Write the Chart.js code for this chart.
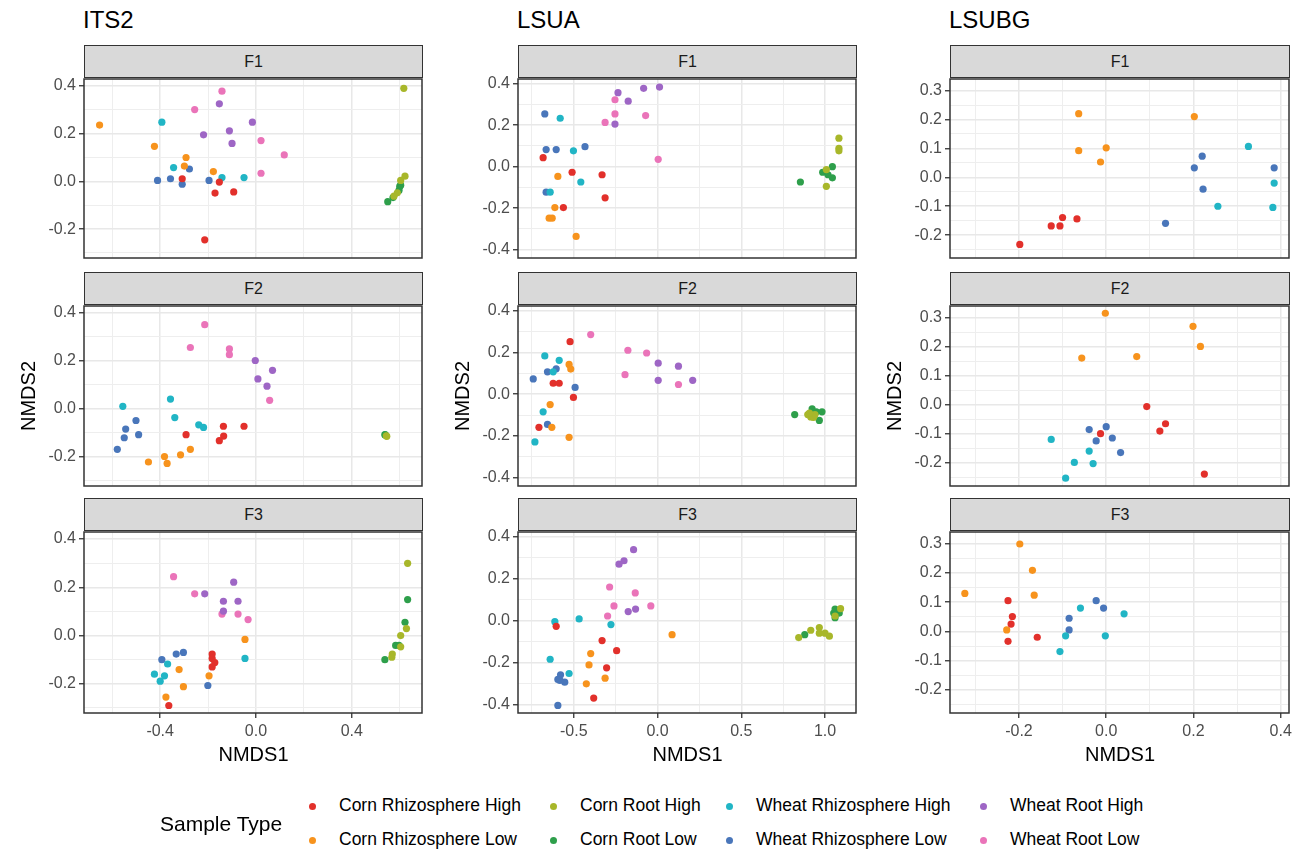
<!DOCTYPE html>
<html lang="en">
<head>
<meta charset="UTF-8">
<title>NMDS by marker and field</title>
<script src="https://cdn.jsdelivr.net/npm/chart.js"></script>
<style>
    body {
        margin: 0;
        background: #ffffff;
        font-family: "Liberation Sans", Arial, sans-serif;
    }

    #page {
        position: relative;
        width: 1293px;
        height: 852px;
        overflow: hidden;
    }

    #page canvas {
        position: absolute;
    }

    .txt {
        position: absolute;
        white-space: nowrap;
        line-height: 1;
        color: #000000;
    }

    .strip {
        position: absolute;
        box-sizing: border-box;
        border: 1.5px solid #333333;
        background: #d9d9d9;
        color: #1a1a1a;
        font-size: 16px;
        display: flex;
        align-items: center;
        justify-content: center;
    }

    .dot {
        position: absolute;
        width: 7px;
        height: 7px;
        border-radius: 50%;
    }
</style>
</head>
<body>
<div id="page"></div>

<script>
    // sample groups, in legend order (column by column)
    const sampleTypes = ['Corn Rhizosphere High', 'Corn Rhizosphere Low', 'Corn Root High', 'Corn Root Low',
        'Wheat Rhizosphere High', 'Wheat Rhizosphere Low', 'Wheat Root High', 'Wheat Root Low'];
    const typeColors = ['#e2302b', '#f7931d', '#a8b72a', '#2e9f4b', '#21b5c5', '#4976ba', '#9e66c5', '#ea74b9'];

    const markers = ['ITS2', 'LSUA', 'LSUBG'];
    const facets = ['F1', 'F2', 'F3'];

    // labelled ticks and axis limits for each marker
    const its2XTicks = [-0.4, 0, 0.4];
    const its2YTicks = [-0.2, 0, 0.2, 0.4];
    const lsuaXTicks = [-0.5, 0, 0.5, 1.0];
    const lsuaYTicks = [-0.4, -0.2, 0, 0.2, 0.4];
    const lsubgXTicks = [-0.2, 0, 0.2, 0.4];
    const lsubgYTicks = [-0.2, -0.1, 0, 0.1, 0.2, 0.3];
    const its2XRange = [-0.718, 0.693];
    const its2YRange = [-0.321, 0.429];
    const lsuaXRange = [-0.833, 1.185];
    const lsuaYRange = [-0.44, 0.422];
    const lsubgXRange = [-0.358, 0.419];
    const lsubgYRange = [-0.279, 0.34];

    // NMDS1 / NMDS2 scores, one list per sample type (same order as sampleTypes)
    const its2F1 = [
        [[-0.308, 0.011], [-0.153, -0.003], [-0.171, -0.049], [-0.093, -0.044], [-0.214, -0.245]],
        [[-0.653, 0.236], [-0.424, 0.147], [-0.292, 0.100], [-0.299, 0.064], [-0.178, 0.041]],
        [[0.617, 0.390], [0.622, 0.022], [0.604, 0.004], [0.590, -0.048], [0.576, -0.062]],
        [[0.550, -0.085], [0.572, -0.068], [0.597, -0.038], [0.600, -0.021], [0.604, -0.016]],
        [[-0.393, 0.248], [-0.344, 0.058], [-0.142, 0.016], [-0.050, 0.016]],
        [[-0.411, 0.004], [-0.357, 0.011], [-0.308, -0.012], [-0.278, 0.052], [-0.196, 0.004]],
        [[-0.153, 0.325], [-0.015, 0.248], [-0.111, 0.212], [-0.219, 0.195], [-0.100, 0.159]],
        [[-0.142, 0.378], [-0.256, 0.301], [0.021, 0.171], [0.118, 0.111], [0.021, 0.034]]
    ];
    const its2F2 = [
        [[-0.292, -0.107], [-0.136, -0.072], [-0.050, -0.072], [-0.135, -0.113], [-0.153, -0.132]],
        [[-0.449, -0.221], [-0.382, -0.198], [-0.371, -0.227], [-0.315, -0.191], [-0.274, -0.168]],
        [[0.544, -0.112], [0.546, -0.114]],
        [[0.538, -0.107], [0.540, -0.108]],
        [[-0.556, 0.011], [-0.357, 0.041], [-0.339, -0.036], [-0.239, -0.066], [-0.219, -0.077]],
        [[-0.501, -0.048], [-0.544, -0.084], [-0.490, -0.107], [-0.550, -0.120], [-0.579, -0.168]],
        [[-0.003, 0.202], [0.069, 0.161], [0.008, 0.125], [0.046, 0.095]],
        [[-0.214, 0.351], [-0.274, 0.256], [-0.111, 0.250], [-0.111, 0.226], [0.057, 0.036]]
    ];
    const its2F3 = [
        [[-0.183, -0.077], [-0.183, -0.095], [-0.172, -0.112], [-0.183, -0.130], [-0.364, -0.290]],
        [[-0.046, -0.016], [-0.321, -0.141], [-0.196, -0.167], [-0.303, -0.212], [-0.376, -0.255]],
        [[0.633, 0.299], [0.628, 0.029], [0.604, 0.000], [0.604, -0.047], [0.569, -0.077], [0.567, -0.090]],
        [[0.633, 0.149], [0.622, 0.055], [0.583, -0.041], [0.597, -0.041], [0.538, -0.100]],
        [[-0.046, -0.095], [-0.369, -0.118], [-0.424, -0.160], [-0.382, -0.167], [-0.400, -0.189]],
        [[-0.393, -0.100], [-0.333, -0.077], [-0.303, -0.070], [-0.201, -0.207]],
        [[-0.093, 0.221], [-0.214, 0.173], [-0.136, 0.142], [-0.075, 0.142], [-0.136, 0.101]],
        [[-0.344, 0.244], [-0.256, 0.173], [-0.142, 0.089], [-0.075, 0.089], [-0.033, 0.066]]
    ];
    const lsuaF1 = [
        [[-0.683, 0.043], [-0.510, -0.027], [-0.331, -0.039], [-0.562, -0.197], [-0.313, -0.150]],
        [[-0.595, -0.047], [-0.613, -0.197], [-0.647, -0.248], [-0.629, -0.248], [-0.486, -0.336]],
        [[1.083, 0.137], [1.083, 0.088], [1.083, 0.076], [1.008, -0.095], [1.008, -0.014]],
        [[0.853, -0.074], [0.986, -0.027], [1.044, 0.000], [1.018, -0.039], [1.044, -0.054]],
        [[-0.581, 0.233], [-0.502, 0.076], [-0.458, -0.074], [-0.641, -0.123]],
        [[-0.673, 0.254], [-0.665, 0.082], [-0.605, 0.082], [-0.433, 0.096], [-0.665, -0.123]],
        [[-0.236, 0.356], [-0.175, 0.315], [-0.083, 0.377], [0.012, 0.383], [-0.254, 0.205]],
        [[-0.313, 0.213], [-0.254, 0.254], [-0.254, 0.322], [-0.071, 0.246], [0.004, 0.035]]
    ];
    const lsuaF2 = [
        [[-0.522, 0.251], [-0.623, 0.052], [-0.587, 0.052], [-0.502, -0.016], [-0.708, -0.159]],
        [[-0.528, 0.142], [-0.518, 0.120], [-0.641, -0.050], [-0.631, -0.159], [-0.528, -0.207]],
        [[0.897, -0.098], [0.915, -0.109], [0.931, -0.112], [0.940, -0.098], [0.907, -0.091]],
        [[0.819, -0.098], [0.923, -0.071], [0.948, -0.085], [0.982, -0.085], [0.966, -0.126]],
        [[-0.673, 0.183], [-0.587, 0.162], [-0.623, 0.107], [-0.683, -0.085], [-0.732, -0.229]],
        [[-0.742, 0.073], [-0.657, 0.107], [-0.605, 0.121], [-0.492, 0.032], [-0.657, -0.145]],
        [[0.004, 0.148], [0.125, 0.134], [0.004, 0.066], [0.210, 0.066]],
        [[-0.399, 0.285], [-0.177, 0.210], [-0.065, 0.197], [-0.194, 0.093], [0.125, 0.046]]
    ];
    const lsuaF3 = [
        [[-0.605, -0.027], [-0.331, -0.095], [-0.244, -0.143], [-0.304, -0.225], [-0.381, -0.369]],
        [[0.087, -0.067], [-0.399, -0.157], [-0.409, -0.211], [-0.313, -0.274], [-0.425, -0.301]],
        [[0.843, -0.081], [0.915, -0.046], [0.966, -0.033], [0.966, -0.060], [1.000, -0.060], [1.026, -0.074], [1.060, 0.022], [1.093, 0.057]],
        [[0.879, -0.067], [1.052, 0.036], [1.060, 0.014], [1.085, 0.036], [1.060, 0.055]],
        [[-0.613, -0.005], [-0.468, 0.008], [-0.278, -0.019], [-0.641, -0.184], [-0.528, -0.252]],
        [[-0.579, -0.258], [-0.595, -0.280], [-0.554, -0.293], [-0.595, -0.404], [-0.583, -0.285]],
        [[-0.143, 0.338], [-0.200, 0.285], [-0.230, 0.269], [-0.131, 0.055], [-0.175, 0.043]],
        [[-0.286, 0.160], [-0.133, 0.132], [-0.260, 0.070], [-0.040, 0.070], [-0.298, 0.022]]
    ];
    const lsubgF1 = [
        [[-0.198, -0.232], [-0.126, -0.168], [-0.106, -0.168], [-0.100, -0.139], [-0.067, -0.144]],
        [[-0.063, 0.220], [-0.063, 0.092], [0.000, 0.102], [-0.013, 0.053], [0.202, 0.210]],
        [],
        [],
        [[0.326, 0.107], [0.256, -0.100], [0.385, -0.020], [0.382, -0.104]],
        [[0.136, -0.159], [0.202, 0.033], [0.220, 0.073], [0.222, -0.041], [0.385, 0.033]],
        [],
        []
    ];
    const lsubgF2 = [
        [[0.093, -0.006], [0.136, -0.065], [0.123, -0.090], [-0.013, -0.099], [0.225, -0.238]],
        [[-0.002, 0.315], [-0.056, 0.161], [0.070, 0.166], [0.199, 0.270], [0.216, 0.201]],
        [],
        [],
        [[-0.126, -0.119], [-0.039, -0.159], [-0.073, -0.198], [-0.030, -0.202], [-0.093, -0.252]],
        [[-0.039, -0.085], [0.000, -0.075], [0.014, -0.114], [-0.023, -0.124], [0.033, -0.164]],
        [],
        []
    ];
    const lsubgF3 = [
        [[-0.225, 0.105], [-0.215, 0.051], [-0.218, 0.025], [-0.225, -0.034], [-0.158, -0.020]],
        [[-0.198, 0.299], [-0.324, 0.130], [-0.169, 0.209], [-0.165, 0.124], [-0.228, 0.005]],
        [],
        [],
        [[-0.059, 0.080], [0.041, 0.060], [-0.093, -0.015], [-0.002, -0.015], [-0.106, -0.069]],
        [[-0.023, 0.105], [-0.006, 0.080], [-0.085, 0.045], [-0.085, 0.005]],
        [],
        []
    ];

    const page = document.getElementById('page');

    // panel grid: plot-area edges in page pixels
    const colLeft = [84, 518, 950];
    const colRight = [423, 857, 1290];
    const stripTop = [45, 272, 498];
    const plotTop = [77, 304, 530];
    const plotBottom = [259, 487, 713];

    const Y_AXIS_W = 60;
    const X_AXIS_H = 36;

    function addText(text, x, y, size, align, rotate) {
        const el = document.createElement('div');
        el.className = 'txt';
        el.textContent = text;
        el.style.fontSize = size + 'px';
        el.style.left = x + 'px';
        if (rotate) {
            el.style.top = y + 'px';
            el.style.transform = 'translate(-50%, -50%) rotate(-90deg)';
        } else {
            // y is the middle of the capitals
            el.style.top = (y - 0.49 * size) + 'px';
            if (align === 'center') el.style.transform = 'translateX(-50%)';
        }
        page.appendChild(el);
        return el;
    }

    // frame round the plot area, drawn over the points like panel.border
    const panelBorder = {
        id: 'panelBorder',
        afterDraw(chart) {
            const a = chart.chartArea;
            const ctx = chart.ctx;
            ctx.save();
            ctx.strokeStyle = '#333333';
            ctx.lineWidth = 1.5;
            ctx.strokeRect(a.left, a.top, a.right - a.left, a.bottom - a.top);
            ctx.restore();
        }
    };

    function axisOptions(majors, range, showLabels, dir) {
        const step = majors[1] - majors[0];
        const minors = [majors[0] - step / 2].concat(majors.map(v => v + step / 2));
        const all = majors.concat(minors)
            .filter(v => v > range[0] && v < range[1])
            .sort((a, b) => a - b);
        const isMajor = v => majors.some(m => Math.abs(m - v) < 1e-9);

        return {
            type: 'linear',
            min: range[0],
            max: range[1],
            afterBuildTicks: s => { s.ticks = all.map(v => ({ value: v })); },
            afterFit: s => {
                // fixed axis size, and no extra room for overhanging end labels
                if (dir === 'y') s.width = Y_AXIS_W;
                else s.height = showLabels ? X_AXIS_H : 0;
                s.paddingTop = 0;
                s.paddingBottom = 0;
                s.paddingLeft = 0;
                s.paddingRight = 0;
            },
            border: { display: false },
            grid: {
                color: c => (c.tick && isMajor(c.tick.value)) ? '#e8e8e8' : '#eeeeee',
                lineWidth: c => (c.tick && isMajor(c.tick.value)) ? 1.5 : 1,
                drawTicks: showLabels,
                tickLength: 5,
                tickWidth: 1.3,
                tickColor: c => (c.tick && isMajor(c.tick.value)) ? '#333333' : 'rgba(0,0,0,0)'
            },
            ticks: {
                display: showLabels,
                autoSkip: false,
                maxRotation: 0,
                padding: dir === 'y' ? 3 : 4,
                color: '#4d4d4d',
                font: { family: 'Liberation Sans', size: 16 },
                callback: v => isMajor(v) ? v.toFixed(1) : ''
            }
        };
    }

    function makePanel(points, col, row, axes) {
        const left = colLeft[col], right = colRight[col];
        const top = plotTop[row], bottom = plotBottom[row];
        const isBottom = row === facets.length - 1;

        // facet strip
        const strip = document.createElement('div');
        strip.className = 'strip';
        strip.textContent = facets[row];
        strip.style.left = left + 'px';
        strip.style.top = stripTop[row] + 'px';
        strip.style.width = (right - left) + 'px';
        strip.style.height = (top - stripTop[row] + 1) + 'px';
        page.appendChild(strip);

        const canvas = document.createElement('canvas');
        const w = (right - left) + Y_AXIS_W + 3;
        const h = (bottom - top) + 2 + (isBottom ? X_AXIS_H : 3);
        canvas.width = w;
        canvas.height = h;
        canvas.style.width = w + 'px';
        canvas.style.height = h + 'px';
        canvas.style.left = (left - Y_AXIS_W) + 'px';
        canvas.style.top = (top - 2) + 'px';
        page.appendChild(canvas);

        new Chart(canvas, {
            type: 'scatter',
            data: {
                datasets: sampleTypes.map((name, i) => ({
                    label: name,
                    data: points[i].map(p => ({ x: p[0], y: p[1] })),
                    backgroundColor: typeColors[i],
                    borderWidth: 0,
                    pointRadius: 3.6
                }))
            },
            options: {
                responsive: false,
                animation: false,
                events: [],
                layout: { padding: { left: 0, top: 2, right: 3, bottom: isBottom ? 0 : 3 } },
                plugins: {
                    legend: { display: false },
                    tooltip: { enabled: false }
                },
                scales: {
                    x: axisOptions(axes.xTicks, axes.xRange, isBottom, 'x'),
                    y: axisOptions(axes.yTicks, axes.yRange, true, 'y')
                }
            },
            plugins: [panelBorder]
        });
    }

    const markerAxes = [
        { xTicks: its2XTicks, yTicks: its2YTicks, xRange: its2XRange, yRange: its2YRange },
        { xTicks: lsuaXTicks, yTicks: lsuaYTicks, xRange: lsuaXRange, yRange: lsuaYRange },
        { xTicks: lsubgXTicks, yTicks: lsubgYTicks, xRange: lsubgXRange, yRange: lsubgYRange }
    ];
    const panelData = [
        [its2F1, its2F2, its2F3],
        [lsuaF1, lsuaF2, lsuaF3],
        [lsubgF1, lsubgF2, lsubgF3]
    ];

    markers.forEach((marker, col) => {
        addText(marker, colLeft[col] - 1, 20, 24, 'left');
        facets.forEach((f, row) => makePanel(panelData[col][row], col, row, markerAxes[col]));
        addText('NMDS1', (colLeft[col] + colRight[col]) / 2, 754, 20, 'center');
        addText('NMDS2', colLeft[col] - 56, 396, 20, 'center', true);
    });

    // legend, two rows, filled column by column
    addText('Sample Type', 160, 823, 21, 'left');
    const legendDotX = [312, 553, 729, 983];
    const legendRowY = [806, 840];
    sampleTypes.forEach((name, i) => {
        const c = Math.floor(i / 2), r = i % 2;
        const dot = document.createElement('div');
        dot.className = 'dot';
        dot.style.background = typeColors[i];
        dot.style.left = (legendDotX[c] - 3.5) + 'px';
        dot.style.top = (legendRowY[r] - 3.5) + 'px';
        page.appendChild(dot);
        addText(name, legendDotX[c] + 27, legendRowY[r], 17.5, 'left');
    });
</script>
</body>
</html>
